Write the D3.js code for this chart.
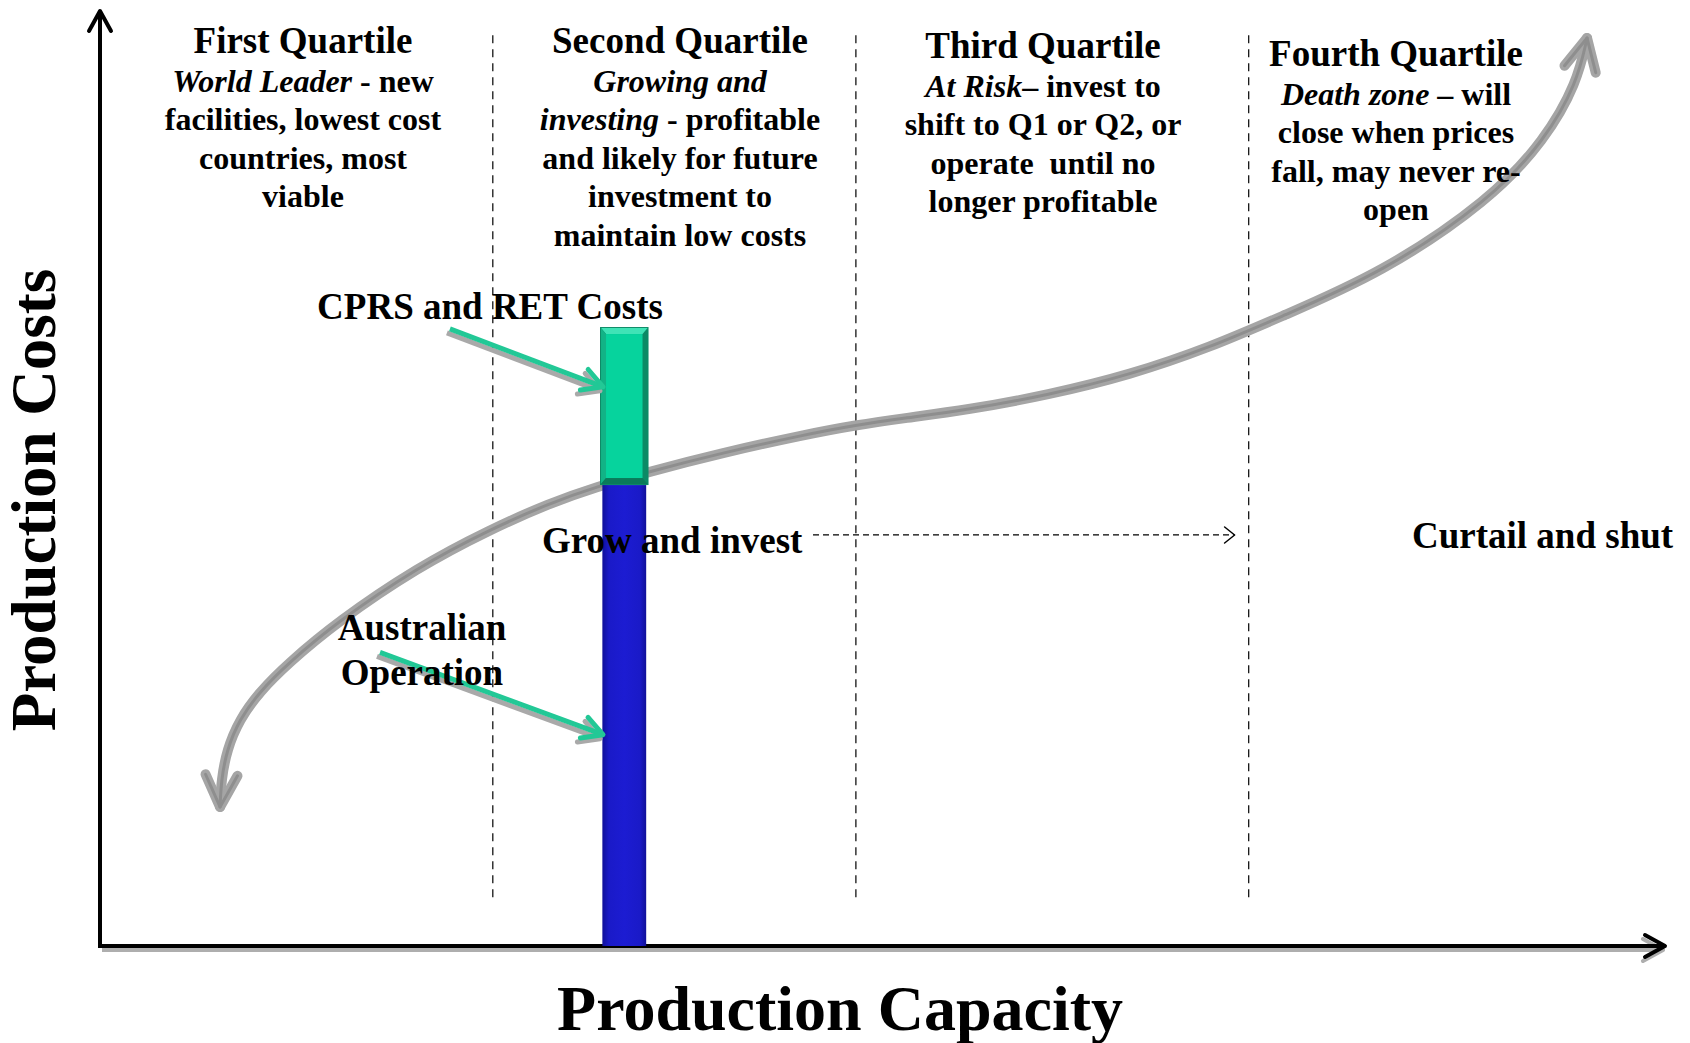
<!DOCTYPE html>
<html><head><meta charset="utf-8">
<script src="https://cdn.jsdelivr.net/npm/d3@7"></script>
<style>
body{margin:0;background:#fff}
svg{display:block}
text{font-family:"Liberation Serif","Times New Roman",serif;font-weight:bold;fill:#000}
</style>
</head><body>
<svg id="c" width="1690" height="1043"></svg>
<script>
// ---------- data ----------
const quartileTitles = ["First Quartile","Second Quartile","Third Quartile","Fourth Quartile"];
const quartileDescriptions = [
  [[["World Leader",true],[" - new",false]],[["facilities, lowest cost",false]],[["countries, most",false]],[["viable",false]]],
  [[["Growing and",true]],[["investing",true],[" - profitable",false]],[["and likely for future",false]],[["investment to",false]],[["maintain low costs",false]]],
  [[["At Risk",true],["\u2013 invest to",false]],[["shift to Q1 or Q2, or",false]],[["operate\u00a0 until no",false]],[["longer profitable",false]]],
  [[["Death zone",true],[" \u2013 will",false]],[["close when prices",false]],[["fall, may never re-",false]],[["open",false]]]
];
const quartileBounds = [25.1, 48.3, 73.4];
// cost curve (capacity %, cost index)
const curveCapacity = [7.67, 7.75, 8.1, 8.9, 10.2, 12.0, 15.14, 20.32, 24.86, 28.75, 31.69, 35.02, 39.74, 44.92, 48.31, 51.44, 55.4, 60.58, 65.81, 70.99, 75.4, 81.92, 88.82, 92.33, 94.38, 95.02];
const curveCost     = [14.87, 17.75, 20.96, 24.2, 27.2, 30.2, 34.65, 40.53, 44.49, 47.38, 49.09, 50.7, 52.73, 54.65, 55.72, 56.47, 57.33, 58.93, 61.07, 64.06, 67.27, 71.98, 79.79, 86.2, 92.3, 97.11];
// Australian operation bar
const barSegments = ["Australian Operation","CPRS and RET Costs"];
const barValues = [49.3, 16.9];
const barCapacity = 33.5;

// ---------- layout ----------
const x = d3.scaleLinear([0,100],[100,1665]);
const y = d3.scaleLinear([0,100],[946,11]);
const svg = d3.select("#c");
const defs = svg.append("defs");

const gb = defs.append("linearGradient").attr("id","gBlue").attr("x1",0).attr("x2",1).attr("y1",0).attr("y2",0);
[[0,"#10109a"],[0.15,"#1a1ac8"],[0.5,"#1c1cd2"],[0.85,"#1a1ac8"],[1,"#10109a"]].forEach(s=>gb.append("stop").attr("offset",s[0]).attr("stop-color",s[1]));

function chevron(id, color, w, len, half){
  const m = defs.append("marker").attr("id",id).attr("markerUnits","userSpaceOnUse")
    .attr("viewBox",`${-len-w} ${-half-w} ${len+2*w} ${2*half+2*w}`)
    .attr("markerWidth",len+2*w).attr("markerHeight",2*half+2*w)
    .attr("refX",0).attr("refY",0).attr("orient","auto-start-reverse");
  m.append("path").attr("d",`M${-len},${-half}L0,0L${-len},${half}`)
    .attr("fill","none").attr("stroke",color).attr("stroke-width",w)
    .attr("stroke-linecap","round").attr("stroke-linejoin","round");
}
chevron("mCurveO","#a5a5a5",10,32,16);
chevron("mCurveI","#8e8e8e",3,32,16);
chevron("mGreen","#22c896",5,20,11);
chevron("mShadow","#a9a9a9",5,20,11);
chevron("mAxis","#000",4,20,11);
chevron("mAxisS","#9a9a9a",4,20,11);
chevron("mDash","#000",1.5,10,8);

// quartile dividers
svg.append("g").selectAll("line").data(quartileBounds).join("line")
  .attr("x1",d=>x(d)).attr("x2",d=>x(d)).attr("y1",y(97.4)).attr("y2",y(5.2))
  .attr("stroke","#000").attr("stroke-width",1.2).attr("stroke-dasharray","8,6");

// axes
const axisG = svg.append("g");
axisG.append("line").attr("x1",x(0)+2).attr("y1",y(0)+4).attr("x2",x(100)-2).attr("y2",y(0)+4)
  .attr("stroke","#9a9a9a").attr("stroke-width",4).attr("marker-end","url(#mAxisS)").attr("opacity",0.8);
axisG.append("line").attr("x1",x(0)).attr("y1",y(0)+2).attr("x2",x(0)).attr("y2",y(100))
  .attr("stroke","#000").attr("stroke-width",4).attr("marker-end","url(#mAxis)");
axisG.append("line").attr("x1",x(0)-2).attr("y1",y(0)).attr("x2",x(100)).attr("y2",y(0))
  .attr("stroke","#000").attr("stroke-width",4).attr("marker-end","url(#mAxis)");

// cost curve
const pts = curveCapacity.map((c,i)=>[x(c),y(curveCost[i])]);
const line = d3.line().curve(d3.curveBasis);
svg.append("path").attr("d",line(pts)).attr("fill","none").attr("stroke","#a5a5a5").attr("stroke-width",10)
  .attr("stroke-linecap","round").attr("marker-start","url(#mCurveO)").attr("marker-end","url(#mCurveO)");
svg.append("path").attr("d",line(pts)).attr("fill","none").attr("stroke","#8e8e8e").attr("stroke-width",3)
  .attr("stroke-linecap","round").attr("marker-start","url(#mCurveI)").attr("marker-end","url(#mCurveI)");

// stacked bar
const stacked = barValues.map((v,i)=>({name:barSegments[i], y0:d3.sum(barValues.slice(0,i)), y1:d3.sum(barValues.slice(0,i+1))}));
const bar = svg.append("g");
bar.append("rect").attr("x",x(barCapacity-1.4)).attr("width",x(barCapacity+1.4)-x(barCapacity-1.4))
  .attr("y",y(stacked[0].y1)).attr("height",y(stacked[0].y0)-y(stacked[0].y1)).attr("fill","url(#gBlue)");
const gx0 = x(barCapacity-1.55), gx1 = x(barCapacity+1.55), gy0 = y(stacked[1].y1), gy1 = y(stacked[1].y0);
bar.append("rect").attr("x",gx0).attr("y",gy0).attr("width",gx1-gx0).attr("height",gy1-gy0).attr("fill","#0b8a66");
bar.append("path").attr("d",`M${gx0+1},${gy0+1}L${gx1-1},${gy0+1}L${gx1-6},${gy0+7}L${gx0+6},${gy0+7}Z`).attr("fill","#3fe3b6");
bar.append("path").attr("d",`M${gx0+1},${gy0+1}L${gx0+6},${gy0+7}L${gx0+6},${gy1-7}L${gx0+1},${gy1-1}Z`).attr("fill","#12b386");
bar.append("path").attr("d",`M${gx0+1},${gy1-1}L${gx0+6},${gy1-7}L${gx1-6},${gy1-7}L${gx1-1},${gy1-1}Z`).attr("fill","#0a7a5a");
bar.append("rect").attr("x",gx0+6).attr("y",gy0+7).attr("width",gx1-gx0-12).attr("height",gy1-gy0-14).attr("fill","#06d39d");

// dashed "grow" arrow
svg.append("line").attr("x1",x(45.56)).attr("x2",x(72.5)).attr("y1",y(43.96)).attr("y2",y(43.96))
  .attr("stroke","#000").attr("stroke-width",1.3).attr("stroke-dasharray","6,4").attr("marker-end","url(#mDash)");

// annotation arrows (green with grey shadow)
const annArrows = [[[22.36,66.0],[32.14,59.8]],[[17.89,31.4],[32.14,22.6]]];
annArrows.forEach(a=>{
  svg.append("line").attr("x1",x(a[0][0])-3).attr("y1",y(a[0][1])+4).attr("x2",x(a[1][0])-3).attr("y2",y(a[1][1])+4)
    .attr("stroke","#a9a9a9").attr("stroke-width",5).attr("marker-end","url(#mShadow)");
  svg.append("line").attr("x1",x(a[0][0])).attr("y1",y(a[0][1])).attr("x2",x(a[1][0])).attr("y2",y(a[1][1]))
    .attr("stroke","#22c896").attr("stroke-width",5).attr("marker-end","url(#mGreen)");
});

// quartile texts
const titleX = [303, 680, 1043, 1396], titleY = [53, 53, 58, 66];
quartileTitles.forEach((t,i)=>{
  const g = svg.append("g");
  g.append("text").attr("x",titleX[i]).attr("y",titleY[i]).attr("text-anchor","middle").attr("font-size",37).text(t);
  quartileDescriptions[i].forEach((ln,j)=>{
    const tx = g.append("text").attr("x",titleX[i]).attr("y",titleY[i]+38.5*(j+1)).attr("text-anchor","middle")
      .attr("font-size",32).style("white-space","pre");
    ln.forEach(seg=>tx.append("tspan").attr("font-style",seg[1]?"italic":"normal").text(seg[0]));
  });
});

// labels (on top of the arrows)
const lab = (t,px,py,anchor)=>svg.append("text").attr("x",px).attr("y",py).attr("text-anchor",anchor).attr("font-size",37).text(t);
lab("CPRS and RET Costs",490,319,"middle");
lab("Grow and invest",542,553,"start");
lab("Curtail and shut",1412,548,"start");
lab("Australian",422,640,"middle");
lab("Operation",422,685,"middle");

// axis titles
svg.append("text").attr("x",840).attr("y",1030).attr("text-anchor","middle").attr("font-size",64).text("Production Capacity");
svg.append("text").attr("transform","translate(55,500) rotate(-90)").attr("text-anchor","middle").attr("font-size",63).text("Production Costs");
</script>
</body></html>
